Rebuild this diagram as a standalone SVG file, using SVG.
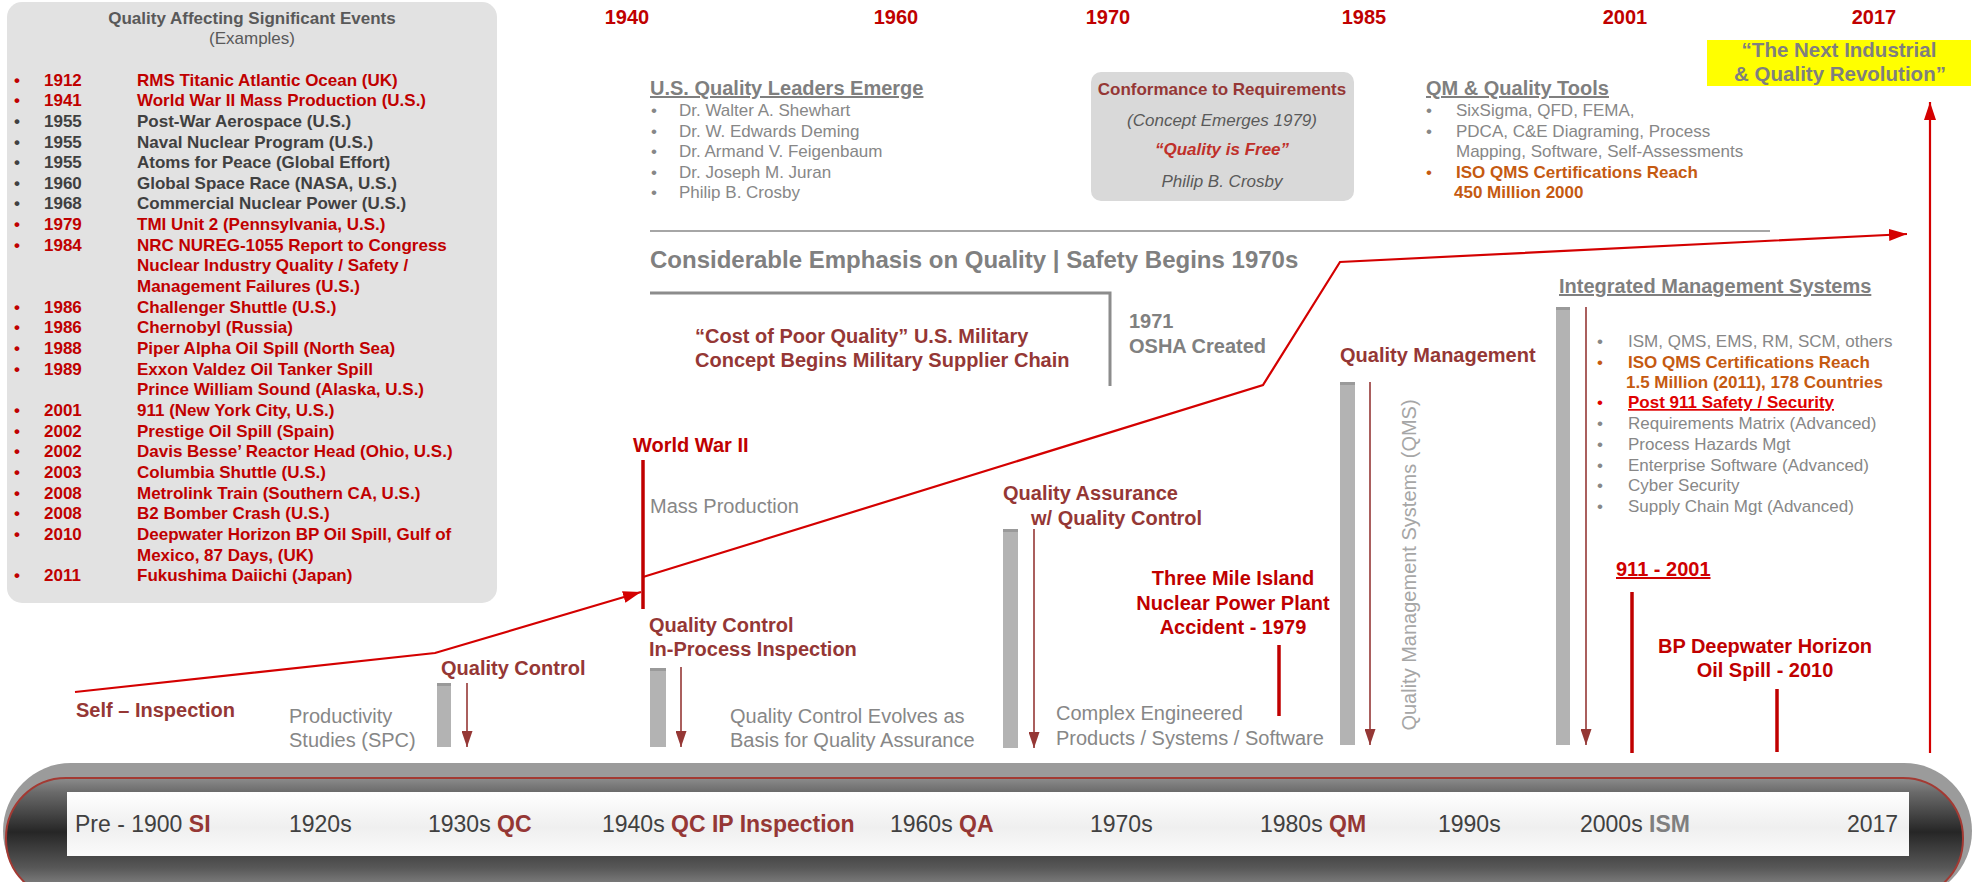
<svg xmlns="http://www.w3.org/2000/svg" width="1976" height="882" viewBox="0 0 1976 882">
  <style>
    text { font-family: "Liberation Sans", Arial, sans-serif; }
    .b { font-weight: bold; }
    .red { fill: #c00000; }
    .dred { fill: #953735; }
    .gray { fill: #878787; }
    .dgray { fill: #404040; }
    .orange { fill: #c55a11; }
    .s17 { font-size: 17px; }
    .s20 { font-size: 20px; }
    .s23 { font-size: 23px; }
    .mid { text-anchor: middle; }
    .ul { text-decoration: underline; }
    .bar { fill: #b3b3b3; }
    .barcap { fill: #9a9a9a; }
    .down { stroke: #953735; stroke-width: 1.6; fill: none; marker-end: url(#ahDown); }
    .evt { stroke: #c00000; stroke-width: 3.5; fill: none; }
    .trend { stroke: #d40000; stroke-width: 2.2; fill: none; marker-end: url(#ahRed); }
  </style>
  <defs>
    <marker id="ahDown" viewBox="0 0 16 11" refX="16" refY="5.5" markerWidth="16" markerHeight="11" markerUnits="userSpaceOnUse" orient="auto">
      <path d="M0,0 L16,5.5 L0,11 Z" fill="#953735"/>
    </marker>
    <marker id="ahRed" viewBox="0 0 18 12" refX="18" refY="6" markerWidth="18" markerHeight="12" markerUnits="userSpaceOnUse" orient="auto">
      <path d="M0,0 L18,6 L0,12 Z" fill="#d40000"/>
    </marker>
    <linearGradient id="pillFill" gradientUnits="userSpaceOnUse" x1="0" y1="778" x2="0" y2="898">
      <stop offset="0" stop-color="#8c8c8c"/>
      <stop offset="0.12" stop-color="#6a6a6a"/>
      <stop offset="0.45" stop-color="#262626"/>
      <stop offset="0.75" stop-color="#585858"/>
      <stop offset="1" stop-color="#9c9c9c"/>
    </linearGradient>
    <linearGradient id="laneFill" x1="0" y1="0" x2="0" y2="1">
      <stop offset="0" stop-color="#ffffff"/>
      <stop offset="0.55" stop-color="#efefef"/>
      <stop offset="1" stop-color="#fbfbfb"/>
    </linearGradient>
  </defs>

  <rect width="1976" height="882" fill="#ffffff"/>

  <!-- Significant events panel -->
  <g id="events-panel">
    <rect x="7" y="2" width="490" height="601" rx="15" fill="#e2e2e2"/>
    <text class="b s17 mid" x="252" y="24" fill="#595959">Quality Affecting Significant Events</text>
    <text class="s17 mid" x="252" y="44" fill="#595959">(Examples)</text>
    <g class="b s17">
      <g class="red">
        <text class="mid" x="17" y="85.5">•</text><text x="44" y="85.5">1912</text><text x="137" y="85.5">RMS Titanic Atlantic Ocean (UK)</text>
        <text class="mid" x="17" y="106.2">•</text><text x="44" y="106.2">1941</text><text x="137" y="106.2">World War II Mass Production (U.S.)</text>
      </g>
      <g class="dgray">
        <text class="mid" x="17" y="126.8">•</text><text x="44" y="126.8">1955</text><text x="137" y="126.8">Post-War Aerospace (U.S.)</text>
        <text class="mid" x="17" y="147.5">•</text><text x="44" y="147.5">1955</text><text x="137" y="147.5">Naval Nuclear Program (U.S.)</text>
        <text class="mid" x="17" y="168.1">•</text><text x="44" y="168.1">1955</text><text x="137" y="168.1">Atoms for Peace (Global Effort)</text>
        <text class="mid" x="17" y="188.8">•</text><text x="44" y="188.8">1960</text><text x="137" y="188.8">Global Space Race (NASA, U.S.)</text>
        <text class="mid" x="17" y="209.4">•</text><text x="44" y="209.4">1968</text><text x="137" y="209.4">Commercial Nuclear Power (U.S.)</text>
      </g>
      <g class="red">
        <text class="mid" x="17" y="230.1">•</text><text x="44" y="230.1">1979</text><text x="137" y="230.1">TMI Unit 2 (Pennsylvania, U.S.)</text>
        <text class="mid" x="17" y="250.7">•</text><text x="44" y="250.7">1984</text><text x="137" y="250.7">NRC NUREG-1055 Report to Congress</text>
        <text x="137" y="271.4">Nuclear Industry Quality / Safety /</text>
        <text x="137" y="292">Management Failures (U.S.)</text>
        <text class="mid" x="17" y="312.7">•</text><text x="44" y="312.7">1986</text><text x="137" y="312.7">Challenger Shuttle (U.S.)</text>
        <text class="mid" x="17" y="333.3">•</text><text x="44" y="333.3">1986</text><text x="137" y="333.3">Chernobyl (Russia)</text>
        <text class="mid" x="17" y="354">•</text><text x="44" y="354">1988</text><text x="137" y="354">Piper Alpha Oil Spill (North Sea)</text>
        <text class="mid" x="17" y="374.6">•</text><text x="44" y="374.6">1989</text><text x="137" y="374.6">Exxon Valdez Oil Tanker Spill</text>
        <text x="137" y="395.3">Prince William Sound (Alaska, U.S.)</text>
        <text class="mid" x="17" y="415.9">•</text><text x="44" y="415.9">2001</text><text x="137" y="415.9">911 (New York City, U.S.)</text>
        <text class="mid" x="17" y="436.6">•</text><text x="44" y="436.6">2002</text><text x="137" y="436.6">Prestige Oil Spill (Spain)</text>
        <text class="mid" x="17" y="457.2">•</text><text x="44" y="457.2">2002</text><text x="137" y="457.2">Davis Besse’ Reactor Head (Ohio, U.S.)</text>
        <text class="mid" x="17" y="477.9">•</text><text x="44" y="477.9">2003</text><text x="137" y="477.9">Columbia Shuttle (U.S.)</text>
        <text class="mid" x="17" y="498.5">•</text><text x="44" y="498.5">2008</text><text x="137" y="498.5">Metrolink Train (Southern CA, U.S.)</text>
        <text class="mid" x="17" y="519.2">•</text><text x="44" y="519.2">2008</text><text x="137" y="519.2">B2 Bomber Crash (U.S.)</text>
        <text class="mid" x="17" y="539.8">•</text><text x="44" y="539.8">2010</text><text x="137" y="539.8">Deepwater Horizon BP Oil Spill, Gulf of</text>
        <text x="137" y="560.5">Mexico, 87 Days, (UK)</text>
        <text class="mid" x="17" y="581.1">•</text><text x="44" y="581.1">2011</text><text x="137" y="581.1">Fukushima Daiichi (Japan)</text>
      </g>
    </g>
  </g>

  <!-- Year markers along the top -->
  <g id="year-markers" class="b s20 red mid">
    <text x="627" y="24">1940</text>
    <text x="896" y="24">1960</text>
    <text x="1108" y="24">1970</text>
    <text x="1364" y="24">1985</text>
    <text x="1625" y="24">2001</text>
    <text x="1874" y="24">2017</text>
  </g>

  <!-- Quality leaders -->
  <g id="quality-leaders">
    <text class="b s20 ul" x="650" y="95" fill="#7f7f7f">U.S. Quality Leaders Emerge</text>
    <g class="s17 gray">
      <text class="mid" x="654" y="116">•</text><text x="679" y="116">Dr. Walter A. Shewhart</text>
      <text class="mid" x="654" y="137">•</text><text x="679" y="137">Dr. W. Edwards Deming</text>
      <text class="mid" x="654" y="157">•</text><text x="679" y="157">Dr. Armand V. Feigenbaum</text>
      <text class="mid" x="654" y="178">•</text><text x="679" y="178">Dr. Joseph M. Juran</text>
      <text class="mid" x="654" y="198">•</text><text x="679" y="198">Philip B. Crosby</text>
    </g>
  </g>

  <!-- Conformance to requirements -->
  <g id="conformance">
    <rect x="1091" y="72" width="263" height="129" rx="10" fill="#d9d9d9"/>
    <g class="s17 mid">
      <text class="b dred" x="1222" y="95">Conformance to Requirements</text>
      <text x="1222" y="126" font-style="italic" fill="#595959">(Concept Emerges 1979)</text>
      <text class="b" x="1222" y="155" font-style="italic" fill="#c0302a">“Quality is Free”</text>
      <text x="1222" y="187" font-style="italic" fill="#595959">Philip B. Crosby</text>
    </g>
  </g>

  <!-- QM and quality tools -->
  <g id="qm-tools">
    <text class="b s20 ul" x="1426" y="95" fill="#7f7f7f">QM &amp; Quality Tools</text>
    <g class="s17">
      <text class="mid gray" x="1429" y="116">•</text><text class="gray" x="1456" y="116">SixSigma, QFD, FEMA,</text>
      <text class="mid gray" x="1429" y="137">•</text><text class="gray" x="1456" y="137">PDCA, C&amp;E Diagraming, Process</text>
      <text class="gray" x="1456" y="157">Mapping, Software, Self-Assessments</text>
      <text class="mid orange" x="1429" y="178">•</text><text class="b orange" x="1456" y="178">ISO QMS Certifications Reach</text>
      <text class="b orange" x="1454" y="198">450 Million 2000</text>
    </g>
  </g>

  <!-- Next revolution callout -->
  <g id="next-revolution">
    <rect x="1707" y="40" width="264" height="46" fill="#ffff00"/>
    <text class="b mid" x="1839" y="57" font-size="20.5" fill="#7f7f7f">“The Next Industrial</text>
    <text class="b mid" x="1840" y="81" font-size="20.5" fill="#7f7f7f">&amp; Quality Revolution”</text>
  </g>

  <!-- Safety emphasis band -->
  <g id="safety-emphasis">
    <line x1="650" y1="231" x2="1770" y2="231" stroke="#a6a6a6" stroke-width="2"/>
    <text class="b" x="650" y="268" font-size="24" fill="#808080">Considerable Emphasis on Quality | Safety Begins 1970s</text>
    <polyline points="650,293 1110,293 1110,386" fill="none" stroke="#8c8c8c" stroke-width="3"/>
    <text class="b s20 dred" x="695" y="343">“Cost of Poor Quality” U.S. Military</text>
    <text class="b s20 dred" x="695" y="367">Concept Begins Military Supplier Chain</text>
    <text class="b s20" x="1129" y="328" fill="#808080">1971</text>
    <text class="b s20" x="1129" y="353" fill="#808080">OSHA Created</text>
  </g>

  <!-- Era stages -->
  <g id="self-inspection">
    <text class="b s20 dred" x="76" y="717">Self – Inspection</text>
  </g>
  <g id="productivity">
    <text class="s20 gray" x="289" y="723">Productivity</text>
    <text class="s20 gray" x="289" y="747">Studies (SPC)</text>
  </g>
  <g id="quality-control">
    <text class="b s20 dred" x="441" y="675">Quality Control</text>
    <rect class="bar" x="437" y="683" width="14" height="64"/>
    <rect class="barcap" x="437" y="683" width="14" height="3"/>
  </g>
  <g id="world-war-ii">
    <text class="b s20 red" x="633" y="452">World War II</text>
    <text class="s20 gray" x="650" y="513">Mass Production</text>
  </g>
  <g id="qc-in-process">
    <text class="b s20 dred" x="649" y="632">Quality Control</text>
    <text class="b s20 dred" x="649" y="656">In-Process Inspection</text>
    <rect class="bar" x="650" y="668" width="16" height="79"/>
    <rect class="barcap" x="650" y="668" width="16" height="3"/>
    <text class="s20 gray" x="730" y="723">Quality Control Evolves as</text>
    <text class="s20 gray" x="730" y="747">Basis for Quality Assurance</text>
  </g>
  <g id="quality-assurance">
    <text class="b s20 dred" x="1003" y="500">Quality Assurance</text>
    <text class="b s20 dred" x="1031" y="525">w/ Quality Control</text>
    <rect class="bar" x="1003" y="529" width="15" height="219"/>
    <rect class="barcap" x="1003" y="529" width="15" height="3"/>
    <text class="s20 gray" x="1056" y="720">Complex Engineered</text>
    <text class="s20 gray" x="1056" y="745">Products / Systems / Software</text>
  </g>
  <g id="three-mile-island">
    <text class="b s20 red mid" x="1233" y="585">Three Mile Island</text>
    <text class="b s20 red mid" x="1233" y="610">Nuclear Power Plant</text>
    <text class="b s20 red mid" x="1233" y="634">Accident - 1979</text>
  </g>
  <g id="quality-management">
    <text class="b s20 dred" x="1340" y="362">Quality Management</text>
    <rect class="bar" x="1340" y="382" width="15" height="363"/>
    <rect class="barcap" x="1340" y="382" width="15" height="3"/>
    <text class="s20 mid" transform="translate(1416,565) rotate(-90)" x="0" y="0" fill="#a6a6a6">Quality Management Systems (QMS)</text>
  </g>
  <g id="integrated-management">
    <text class="b s20 ul" x="1559" y="293" fill="#7f7f7f">Integrated Management Systems</text>
    <rect class="bar" x="1556" y="307" width="14" height="438"/>
    <rect class="barcap" x="1556" y="307" width="14" height="3"/>
    <g class="s17">
      <text class="mid gray" x="1600" y="347">•</text><text class="gray" x="1628" y="347">ISM, QMS, EMS, RM, SCM, others</text>
      <text class="mid orange" x="1600" y="368">•</text><text class="b orange" x="1628" y="368">ISO QMS Certifications Reach</text>
      <text class="b orange" x="1626" y="388">1.5 Million (2011), 178 Countries</text>
      <text class="mid" x="1600" y="408" fill="#e00000">•</text><text class="b ul" x="1628" y="408" fill="#e00000">Post 911 Safety / Security</text>
      <text class="mid gray" x="1600" y="429">•</text><text class="gray" x="1628" y="429">Requirements Matrix (Advanced)</text>
      <text class="mid gray" x="1600" y="450">•</text><text class="gray" x="1628" y="450">Process Hazards Mgt</text>
      <text class="mid gray" x="1600" y="471">•</text><text class="gray" x="1628" y="471">Enterprise Software (Advanced)</text>
      <text class="mid gray" x="1600" y="491">•</text><text class="gray" x="1628" y="491">Cyber Security</text>
      <text class="mid gray" x="1600" y="512">•</text><text class="gray" x="1628" y="512">Supply Chain Mgt (Advanced)</text>
    </g>
  </g>
  <g id="event-911">
    <text class="b s20 ul" x="1616" y="576" fill="#d00000">911 - 2001</text>
  </g>
  <g id="event-bp">
    <text class="b s20 red mid" x="1765" y="653">BP Deepwater Horizon</text>
    <text class="b s20 red mid" x="1765" y="677">Oil Spill - 2010</text>
  </g>

  <!-- Connectors: trend line, event ticks and downward flow arrows -->
  <g id="connectors">
    <polyline class="trend" points="75,692 435,653 641,592"/>
    <polyline class="trend" points="643,577 1263,385 1340,262 1907,234"/>
    <line class="trend" x1="1930" y1="753" x2="1930" y2="102" stroke-width="2"/>
    <line class="evt" x1="643" y1="460" x2="643" y2="609"/>
    <line class="evt" x1="1279" y1="645" x2="1279" y2="716"/>
    <line class="evt" x1="1632" y1="592" x2="1632" y2="753"/>
    <line class="evt" x1="1777" y1="689" x2="1777" y2="752"/>
    <line class="down" x1="467" y1="683" x2="467" y2="747"/>
    <line class="down" x1="681" y1="667" x2="681" y2="747"/>
    <line class="down" x1="1034" y1="529" x2="1034" y2="748"/>
    <line class="down" x1="1370" y1="382" x2="1370" y2="745"/>
    <line class="down" x1="1586" y1="307" x2="1586" y2="745"/>
  </g>

  <!-- Decade timeline bar -->
  <g id="timeline-bar">
    <rect x="3" y="763" width="1969" height="136" rx="68" fill="#9b9b9b"/>
    <rect x="6" y="778" width="1957" height="121" rx="60" fill="url(#pillFill)" stroke="#a33a33" stroke-width="2"/>
    <rect x="67" y="792" width="1842" height="64" fill="url(#laneFill)"/>
    <g class="s23" fill="#404040">
      <text x="75" y="832">Pre - 1900 <tspan class="b dred">SI</tspan></text>
      <text x="289" y="832">1920s</text>
      <text x="428" y="832">1930s <tspan class="b dred">QC</tspan></text>
      <text x="602" y="832">1940s <tspan class="b dred">QC IP Inspection</tspan></text>
      <text x="890" y="832">1960s <tspan class="b dred">QA</tspan></text>
      <text x="1090" y="832">1970s</text>
      <text x="1260" y="832">1980s <tspan class="b dred">QM</tspan></text>
      <text x="1438" y="832">1990s</text>
      <text x="1580" y="832">2000s  <tspan class="b" fill="#7f7f7f">ISM</tspan></text>
      <text x="1847" y="832">2017</text>
    </g>
  </g>
</svg>
